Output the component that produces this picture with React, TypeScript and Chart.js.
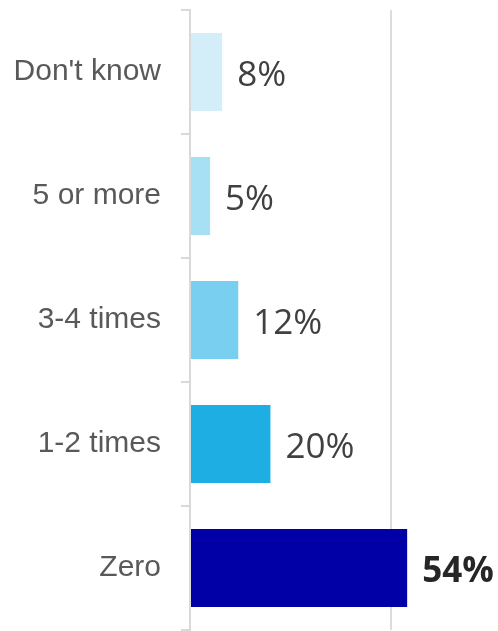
import React, { useEffect, useRef } from "react";
import { Chart, registerables } from "chart.js";

Chart.register(...registerables);

const categories = ["Don't know", "5 or more", "3-4 times", "1-2 times", "Zero"];
const values = [8, 5, 12, 20, 54];
const barColors = ["#d3eef9", "#a7dff4", "#79cff0", "#1eaee4", "#0000a6"];
const valueLabels = ["8%", "5%", "12%", "20%", "54%"];
const boldLabel = [false, false, false, false, true];

const valueLabelPlugin = {
  id: "valueLabels",
  afterDatasetsDraw(chart: any) {
    const ctx = chart.ctx;
    const meta = chart.getDatasetMeta(0);
    ctx.save();
    meta.data.forEach((bar: any, i: number) => {
      const bold = boldLabel[i];
      ctx.font = `${bold ? "bold " : ""}35px "Open Sans"`;
      ctx.fillStyle = bold ? "#262626" : "#404040";
      ctx.textAlign = "left";
      ctx.textBaseline = "middle";
      ctx.fillText(valueLabels[i], bar.x + 15, bar.y + 4);
    });
    ctx.restore();
  },
};

export default function App() {
  const ref = useRef<HTMLCanvasElement>(null);
  useEffect(() => {
    const chart = new Chart(ref.current!, {
      type: "bar",
      data: {
        labels: categories,
        datasets: [
          {
            data: values,
            backgroundColor: barColors,
            borderWidth: 0,
            barPercentage: 0.63,
            categoryPercentage: 1,
          },
        ],
      },
      options: {
        indexAxis: "y",
        responsive: false,
        maintainAspectRatio: false,
        animation: false,
        layout: { padding: { top: 10, bottom: 1, right: 8, left: 0 } },
        plugins: { legend: { display: false }, tooltip: { enabled: false } },
        scales: {
          x: {
            min: 0,
            max: 74.6,
            afterFit: (s: any) => {
              s.height = 0;
              s.paddingLeft = 0;
              s.paddingRight = 0;
              s.paddingTop = 0;
              s.paddingBottom = 0;
            },
            ticks: { display: false, stepSize: 50 },
            border: { display: false },
            grid: {
              drawTicks: false,
              lineWidth: 2,
              color: (c: any) => (c.tick && c.tick.value === 50 ? "#dcdcdc" : "rgba(0,0,0,0)"),
            },
          },
          y: {
            afterFit: (s: any) => {
              s.width = 190;
              s.paddingTop = 0;
              s.paddingBottom = 0;
              s.paddingLeft = 0;
              s.paddingRight = 0;
            },
            border: { display: true, color: "#d9d9d9", width: 2 },
            grid: {
              drawOnChartArea: false,
              drawTicks: true,
              tickLength: 9,
              color: "#d9d9d9",
              lineWidth: 2,
              offset: true,
            },
            ticks: {
              color: "#595959",
              padding: 20,
              font: { family: '"Liberation Sans"', size: 30 },
            },
          },
        },
      },
      plugins: [valueLabelPlugin],
    } as any);
    return () => chart.destroy();
  }, []);
  return (
    <div style={{ position: "fixed", left: 0, top: 0, width: 498, height: 631, background: "#fff" }}>
      <canvas ref={ref} width={498} height={631} style={{ display: "block" }} />
    </div>
  );
}
